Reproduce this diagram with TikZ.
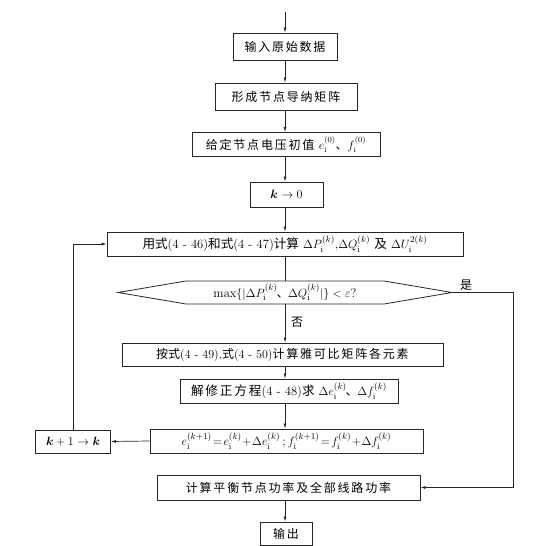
\documentclass[tikz,border=0pt]{standalone}
\usepackage{fontspec}
\usepackage{amsmath}
\newfontfamily\cjk{Noto Sans CJK SC}
\newfontfamily\cjks[LetterSpace=15]{Noto Sans CJK SC}
\usetikzlibrary{arrows.meta}
\newcommand{\ii}{\mathrm{i}}
\begin{document}
\begin{tikzpicture}[x=1pt,y=-1pt,
  box/.style={draw=black!85, line width=0.8pt, inner sep=0pt, minimum height=24pt, font=\fontsize{12}{14}\selectfont},
  mbox/.style={box, font=\fontsize{12.6}{14}\selectfont},
  lbl/.style={inner sep=0pt, font=\fontsize{12}{14}\selectfont},
  arr/.style={draw=black!85, line width=0.7pt, -{Latex[length=5pt,width=3pt]}},
  ln/.style={draw=black!85, line width=0.7pt}]
\useasboundingbox (0,0) rectangle (547,546);
\coordinate (axis) at (285,0);
\coordinate (start) at (285,12);
\node[box, minimum width=104, minimum height=27] (b1) at (285,46.5) {\cjks 输入原始数据};
\node[box, minimum width=142, minimum height=27] (b2) at (286,96.5) {\cjks 形成节点导纳矩阵};
\node[box, minimum width=188] (b3) at (286,144.5) {\cjks 给定节点电压初值\ $e_\ii^{(0)}${\cjk 、}$f_\ii^{(0)}$};
\node[mbox, minimum width=73, minimum height=25] (b4) at (286.5,194.5) {$\boldsymbol{k}\rightarrow 0$};
\node[mbox, minimum width=356] (b5) at (285,244) {{\cjk 用式}(4 - 46){\cjk 和式}(4 - 47){\cjk 计算}\ $\Delta P_\ii^{(k)}$,$\Delta Q_\ii^{(k)}$\ {\cjk 及}\ $\Delta U_\ii^{2(k)}$};
\node[lbl, font=\fontsize{12.6}{14}\selectfont] (hx) at (285,292.5) {$\max\{|\Delta P_\ii^{(k)}$\hspace{-1pt}{\cjk 、}\hspace{-1pt}$\Delta Q_\ii^{(k)}|\}<\varepsilon$?};
\coordinate (hL) at (118,292.5);
\coordinate (hTL) at (186,281);
\coordinate (hTR) at (384,281);
\coordinate (hR) at (452,292.5);
\coordinate (hBR) at (384,304);
\coordinate (hBL) at (186,304);
\draw[ln, line width=0.8pt] (hL) -- (hTL) -- (hTR) -- (hR) -- (hBR) -- (hBL) -- cycle;
\node[box, minimum width=321, minimum height=23] (b6) at (282.5,354.5) {{\cjk 按式}(4 - 49),{\cjk 式}(4 - 50){\cjks 计算雅可比矩阵各元素}};
\node[mbox, minimum width=218] (b7) at (289,391) {{\cjks 解修正方程}(4 - 48){\cjk 求}\ $\Delta e_\ii^{(k)}$\hspace{-1pt}{\cjk 、}\hspace{-1pt}$\Delta f_\ii^{(k)}$};
\node[mbox, minimum width=273] (b8) at (286.5,441) {$e_\ii^{(k+1)}\!=\!e_\ii^{(k)}\!+\!\Delta e_\ii^{(k)}$\,;\,$f_\ii^{(k+1)}\!=\!f_\ii^{(k)}\!+\!\Delta f_\ii^{(k)}$};
\node[mbox, minimum width=75, minimum height=23] (bk) at (73,441.5) {$\boldsymbol{k}+1\rightarrow \boldsymbol{k}$};
\node[box, minimum width=263, minimum height=25] (b9) at (288.5,487.5) {\cjks 计算平衡节点功率及全部线路功率};
\node[box, minimum width=52, minimum height=23] (b10) at (286,533.5) {\cjks 输出};
\node[lbl] (yes) at (466,285) {\cjk 是};
\node[lbl] (no) at (297,322) {\cjk 否};
\coordinate (yc) at (513,292.5);
% connectors
\draw[arr] (start) -- (b1.north -| axis);
\draw[arr] (b1.south -| axis) -- (b2.north -| axis);
\draw[arr] (b2.south -| axis) -- (b3.north -| axis);
\draw[arr] (b3.south -| axis) -- (b4.north -| axis);
\draw[arr] (b4.south -| axis) -- (b5.north -| axis);
\draw[ln] (b5.south -| axis) -- (hTL -| axis);
\draw[arr] (hBL -| axis) -- (b6.north -| axis);
\draw[arr] (b6.south -| axis) -- (b7.north -| axis);
\draw[arr] (b7.south -| axis) -- (b8.north -| axis);
\draw[arr] (b8.west) -- (bk.east);
\draw[arr] (bk.north) -- (bk.north |- b5.west) -- (b5.west);
\draw[arr] (hR) -- (yc) |- (b9.east);
\draw[arr] (b9.south -| axis) -- (b10.north -| axis);
\end{tikzpicture}
\end{document}
